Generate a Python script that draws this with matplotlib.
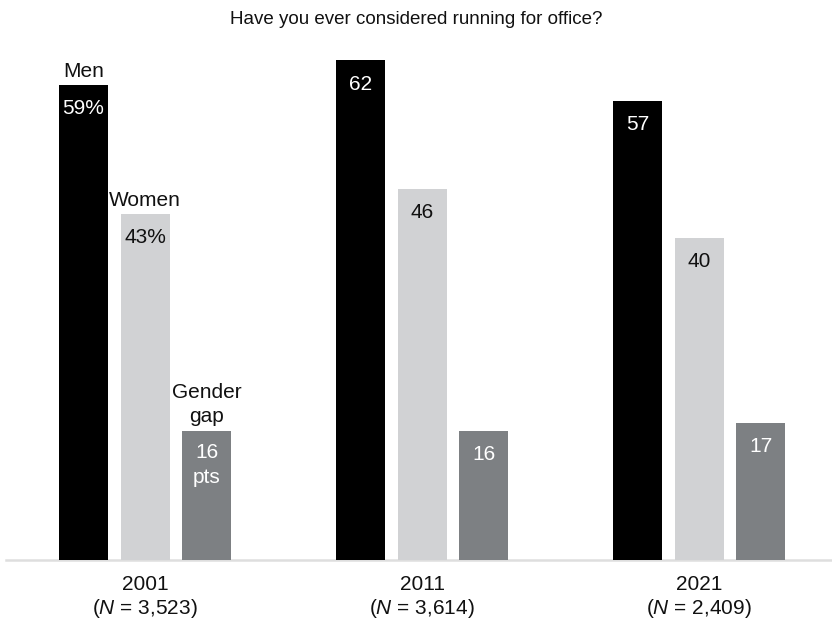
import matplotlib
matplotlib.use("Agg")
import matplotlib.pyplot as plt
import numpy as np

years = ["2001", "2011", "2021"]
sample_sizes = ["3,523", "3,614", "2,409"]
men = [59, 62, 57]
women = [43, 46, 40]
gap = [16, 16, 17]
series_names = ["Men", "Women", "Gender\ngap"]
title = "Have you ever considered running for office?"

plt.rcParams['font.family'] = ['Liberation Sans', 'DejaVu Sans']
plt.rcParams['mathtext.fontset'] = 'custom'
plt.rcParams['mathtext.rm'] = 'Liberation Sans'
plt.rcParams['mathtext.it'] = 'Liberation Sans:italic'

W, H = 832, 628
fig = plt.figure(figsize=(W / 100, H / 100), dpi=100)
ax_left_px, ax_bottom_px = 6, 560
ax = fig.add_axes([ax_left_px / W, (H - ax_bottom_px) / H, (W - ax_left_px) / W, ax_bottom_px / H])

colors = ["#000000", "#d1d2d4", "#7d8083"]
text_colors = ["white", "#111111", "white"]
offsets = [-0.222, 0.0, 0.222]
width = 0.177
x = np.arange(len(years))
fs = 15

series = [men, women, gap]
for si, (vals, c, tc, off) in enumerate(zip(series, colors, text_colors, offsets)):
    ax.bar(x + off, vals, width=width, color=c, zorder=2)
    for gi, v in enumerate(vals):
        dy = -17
        if gi == 0:
            if si == 2:
                lab = f"{v}\npts"
                dy = -24.5
            else:
                lab = f"{v}%"
        else:
            lab = f"{v}"
        ax.annotate(lab, (x[gi] + off, v), xytext=(0, dy), textcoords="offset points",
                    ha="center", va="center", fontsize=fs, color=tc,
                    linespacing=1.35, zorder=3)

# series names above first group
for si, (vals, off) in enumerate(zip(series, offsets)):
    ax.annotate(series_names[si], (x[0] + off, vals[0]), xytext=(0, 3.5 if si == 2 else 2.5),
                textcoords="offset points", ha="center", va="bottom",
                fontsize=fs, color="#111111", linespacing=1.35)

ax.set_xlim(-0.502, 2.480)
ax.set_ylim(0, 69.5)
ax.set_yticks([])
ax.set_xticks(x)
ax.set_xticklabels([f"{y}\n($\\it{{N}}$ = {n})" for y, n in zip(years, sample_sizes)],
                   fontsize=fs, color="#111111", linespacing=1.15)
ax.tick_params(axis="x", length=0, pad=11)
for s in ["top", "left", "right"]:
    ax.spines[s].set_visible(False)
ax.spines["bottom"].set_color("#dedede")
ax.spines["bottom"].set_linewidth(1.8)
ax.spines["bottom"].set_zorder(1)

fig.text(0.5, 1 - 20 / H, title, ha="center", va="center", fontsize=13.5, color="#111111")

fig.savefig("out.png", dpi=100)
